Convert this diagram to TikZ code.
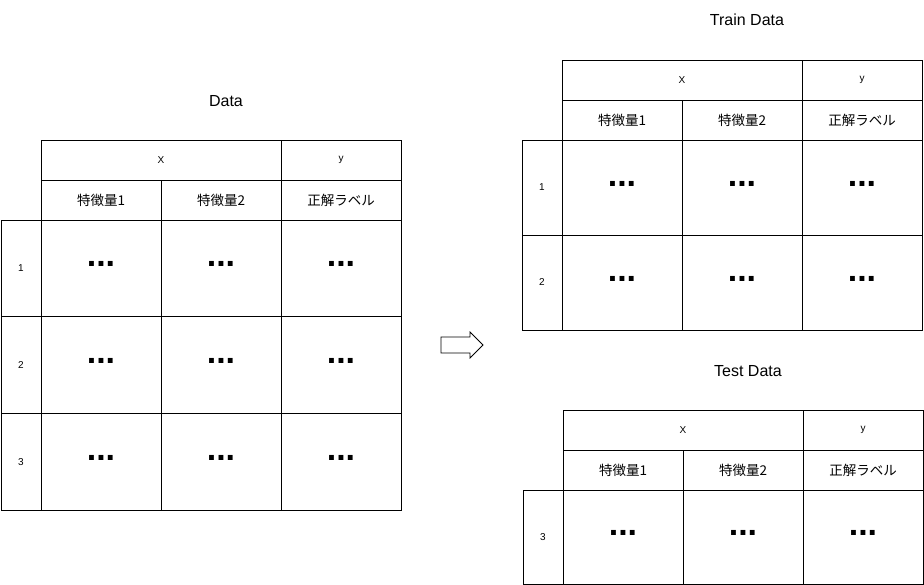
\documentclass[tikz,border=0pt]{standalone}
\usepackage{fontspec}
\setmainfont{Liberation Sans}
\newfontfamily\cjk{Noto Sans CJK JP}
\begin{document}
\begin{tikzpicture}[x=1pt, y=-1pt, line width=0.6pt,
  small/.style={font=\fontsize{10}{11}\selectfont},
  head/.style={font=\fontsize{13.5}{15}\cjk},
  title/.style={font=\fontsize{16}{18}\selectfont},
  dots/.style={font=\fontsize{34}{34}\bfseries\selectfont}]

\useasboundingbox (0,0) rectangle (924,585);

%titles
\node [title] (ttl-L) at (226,101) {Data};
\node [title] (ttl-R) at (747,20) {Train Data};
\node [title] (ttl-T) at (748,371) {Test Data};

%arrow
\draw [line width=0.8] (441,337) -- (470,337) -- (470,332) -- (483,345) -- (470,358) -- (470,353) -- (441,353) -- cycle;

%tables
\foreach \nm/\tx/\ty/\rows/\first/\rh in {L/41/140/3/1/96.7, R/562/60/2/1/95, T/563/410/1/3/94.5}
{
  \draw (\tx,\ty) rectangle ++(240,40);
  \draw ({\tx+240},\ty) rectangle ++(120,40);
  \node [small] (\nm-x) at ({\tx+120},{\ty+20}) {X};
  \node [small] (\nm-y) at ({\tx+300},{\ty+20}) {y};
  \foreach \c/\lab in {0/特徴量1, 1/特徴量2, 2/正解ラベル}
  {
    \draw ({\tx+\c*120},{\ty+40}) rectangle ++(120,40);
    \node [head] (\nm-h\c) at ({\tx+\c*120+60},{\ty+60}) {\lab};
  }
  \foreach \r in {1,...,\rows}
  {
    \pgfmathsetmacro\ya{\ty+80+(\r-1)*\rh}
    \pgfmathtruncatemacro\num{\first+\r-1}
    \draw ({\tx-40},\ya) rectangle ++(40,\rh);
    \node [small] (\nm-n\r) at ({\tx-20},{\ya+\rh/2}) {\num};
    \foreach \c in {0,1,2}
    {
      \draw ({\tx+\c*120},\ya) rectangle ++(120,\rh);
      \node [dots] (\nm-d\r\c) at ({\tx+\c*120+60},{\ya+\rh/2-4}) {...};
    }
  }
}
\end{tikzpicture}
\end{document}
